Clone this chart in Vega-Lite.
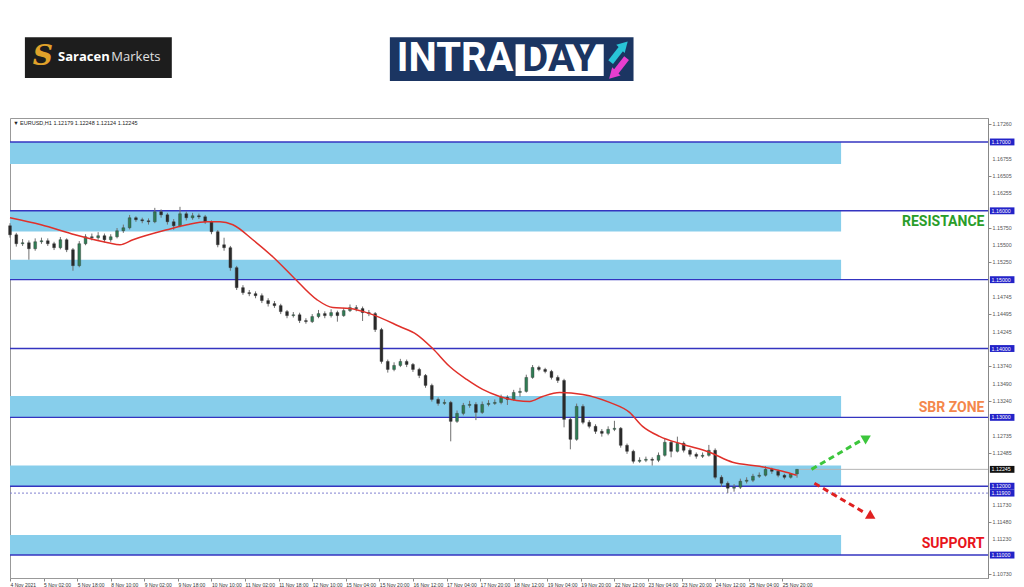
{
  "$schema": "https://vega.github.io/schema/vega-lite/v6.json",
  "width": 978,
  "height": 460,
  "autosize": {"type": "none"},
  "padding": {"left": 10, "top": 118, "right": 36, "bottom": 9},
  "background": "white",
  "config": {"view": {"stroke": "#999999", "strokeWidth": 1}, "axis": {"labelOverlap": false, "labelBound": false}},
  "datasets": {
    "candles": [
{"t":0,"o":1.15783,"h":1.1582,"l":1.1561,"c":1.15652},
{"t":3,"o":1.15652,"h":1.1568,"l":1.1548,"c":1.15522},
{"t":6,"o":1.15522,"h":1.1559,"l":1.1549,"c":1.15536},
{"t":9,"o":1.15536,"h":1.1557,"l":1.1529,"c":1.15449},
{"t":12,"o":1.15449,"h":1.156,"l":1.1542,"c":1.15551},
{"t":15,"o":1.15551,"h":1.1561,"l":1.1552,"c":1.15565},
{"t":18,"o":1.15565,"h":1.156,"l":1.1549,"c":1.15522},
{"t":21,"o":1.15522,"h":1.1555,"l":1.1543,"c":1.15464},
{"t":24,"o":1.15464,"h":1.1562,"l":1.1544,"c":1.1558},
{"t":27,"o":1.1558,"h":1.156,"l":1.154,"c":1.15435},
{"t":30,"o":1.15435,"h":1.1546,"l":1.1513,"c":1.15203},
{"t":33,"o":1.15203,"h":1.1556,"l":1.1518,"c":1.15522},
{"t":36,"o":1.15522,"h":1.1566,"l":1.155,"c":1.15623},
{"t":39,"o":1.15623,"h":1.1567,"l":1.1557,"c":1.15609},
{"t":42,"o":1.15609,"h":1.1569,"l":1.1558,"c":1.15638},
{"t":45,"o":1.15638,"h":1.1567,"l":1.1554,"c":1.1558},
{"t":48,"o":1.1558,"h":1.1566,"l":1.1555,"c":1.15623},
{"t":51,"o":1.15623,"h":1.1575,"l":1.156,"c":1.1571},
{"t":54,"o":1.1571,"h":1.158,"l":1.1568,"c":1.15754},
{"t":57,"o":1.15754,"h":1.1594,"l":1.1573,"c":1.15899},
{"t":60,"o":1.15899,"h":1.1592,"l":1.1584,"c":1.1587},
{"t":63,"o":1.1587,"h":1.159,"l":1.1582,"c":1.15855},
{"t":66,"o":1.15855,"h":1.1589,"l":1.158,"c":1.15841},
{"t":69,"o":1.15841,"h":1.16043,"l":1.1582,"c":1.15986},
{"t":72,"o":1.15986,"h":1.1602,"l":1.159,"c":1.15942},
{"t":75,"o":1.15942,"h":1.1597,"l":1.158,"c":1.15841},
{"t":78,"o":1.15841,"h":1.1588,"l":1.15725,"c":1.15783},
{"t":81,"o":1.15783,"h":1.16058,"l":1.1576,"c":1.15957},
{"t":84,"o":1.15957,"h":1.1599,"l":1.1586,"c":1.15899},
{"t":87,"o":1.15899,"h":1.1597,"l":1.1587,"c":1.15928},
{"t":90,"o":1.15928,"h":1.1596,"l":1.1588,"c":1.15913},
{"t":93,"o":1.15913,"h":1.1594,"l":1.1581,"c":1.15841},
{"t":96,"o":1.15841,"h":1.1586,"l":1.1566,"c":1.15696},
{"t":99,"o":1.15696,"h":1.1572,"l":1.1547,"c":1.15507},
{"t":102,"o":1.15507,"h":1.15609,"l":1.1542,"c":1.15464},
{"t":105,"o":1.15464,"h":1.1549,"l":1.1513,"c":1.15174},
{"t":108,"o":1.15174,"h":1.152,"l":1.1485,"c":1.14884},
{"t":111,"o":1.14884,"h":1.1492,"l":1.1478,"c":1.14812},
{"t":114,"o":1.14812,"h":1.1485,"l":1.1476,"c":1.14797},
{"t":117,"o":1.14797,"h":1.1483,"l":1.1473,"c":1.14768},
{"t":120,"o":1.14768,"h":1.148,"l":1.1466,"c":1.14696},
{"t":123,"o":1.14696,"h":1.1473,"l":1.1461,"c":1.14652},
{"t":126,"o":1.14652,"h":1.1469,"l":1.1459,"c":1.14623},
{"t":129,"o":1.14623,"h":1.1465,"l":1.145,"c":1.14536},
{"t":132,"o":1.14536,"h":1.1456,"l":1.1444,"c":1.14478},
{"t":135,"o":1.14478,"h":1.1453,"l":1.1445,"c":1.1449},
{"t":138,"o":1.1449,"h":1.1452,"l":1.1437,"c":1.14406},
{"t":141,"o":1.14406,"h":1.1444,"l":1.1436,"c":1.14391},
{"t":144,"o":1.14391,"h":1.145,"l":1.1437,"c":1.14464},
{"t":147,"o":1.14464,"h":1.1456,"l":1.1444,"c":1.14507},
{"t":150,"o":1.14507,"h":1.1454,"l":1.1444,"c":1.14478},
{"t":153,"o":1.14478,"h":1.1457,"l":1.1445,"c":1.14522},
{"t":156,"o":1.14522,"h":1.1455,"l":1.1439,"c":1.14478},
{"t":159,"o":1.14478,"h":1.1459,"l":1.1446,"c":1.14551},
{"t":162,"o":1.14551,"h":1.1464,"l":1.1453,"c":1.14594},
{"t":165,"o":1.14594,"h":1.1463,"l":1.1454,"c":1.1458},
{"t":168,"o":1.1458,"h":1.1461,"l":1.144,"c":1.14522},
{"t":171,"o":1.14522,"h":1.1456,"l":1.1447,"c":1.14507},
{"t":174,"o":1.14507,"h":1.1453,"l":1.1424,"c":1.14275},
{"t":177,"o":1.14275,"h":1.143,"l":1.1378,"c":1.13812},
{"t":180,"o":1.13812,"h":1.1384,"l":1.1365,"c":1.13696},
{"t":183,"o":1.13696,"h":1.138,"l":1.1367,"c":1.13754},
{"t":186,"o":1.13754,"h":1.1385,"l":1.1373,"c":1.13812},
{"t":189,"o":1.13812,"h":1.1384,"l":1.1373,"c":1.13768},
{"t":192,"o":1.13768,"h":1.1379,"l":1.1366,"c":1.13696},
{"t":195,"o":1.13696,"h":1.1372,"l":1.1357,"c":1.13609},
{"t":198,"o":1.13609,"h":1.1363,"l":1.1343,"c":1.13464},
{"t":201,"o":1.13464,"h":1.1349,"l":1.1323,"c":1.13261},
{"t":204,"o":1.13261,"h":1.1329,"l":1.1317,"c":1.13203},
{"t":207,"o":1.13203,"h":1.1326,"l":1.1318,"c":1.13217},
{"t":210,"o":1.13217,"h":1.1324,"l":1.12652,"c":1.12942},
{"t":213,"o":1.12942,"h":1.131,"l":1.1292,"c":1.13058},
{"t":216,"o":1.13058,"h":1.1321,"l":1.1303,"c":1.13174},
{"t":219,"o":1.13174,"h":1.1324,"l":1.1314,"c":1.13188},
{"t":222,"o":1.13188,"h":1.1322,"l":1.1296,"c":1.13072},
{"t":225,"o":1.13072,"h":1.1323,"l":1.1305,"c":1.13188},
{"t":228,"o":1.13188,"h":1.1325,"l":1.1316,"c":1.13203},
{"t":231,"o":1.13203,"h":1.1326,"l":1.1318,"c":1.13217},
{"t":234,"o":1.13217,"h":1.1333,"l":1.1319,"c":1.1329},
{"t":237,"o":1.1329,"h":1.1332,"l":1.1318,"c":1.13261},
{"t":240,"o":1.13261,"h":1.134,"l":1.1324,"c":1.13362},
{"t":243,"o":1.13362,"h":1.1343,"l":1.133,"c":1.13377},
{"t":246,"o":1.13377,"h":1.1362,"l":1.1336,"c":1.1358},
{"t":249,"o":1.1358,"h":1.1376,"l":1.1356,"c":1.13725},
{"t":252,"o":1.13725,"h":1.1375,"l":1.1367,"c":1.13696},
{"t":255,"o":1.13696,"h":1.1372,"l":1.1364,"c":1.13667},
{"t":258,"o":1.13667,"h":1.1369,"l":1.1355,"c":1.1358},
{"t":261,"o":1.1358,"h":1.1361,"l":1.135,"c":1.13536},
{"t":264,"o":1.13536,"h":1.1356,"l":1.12855,"c":1.12971},
{"t":267,"o":1.12971,"h":1.13,"l":1.12536,"c":1.12681},
{"t":270,"o":1.12681,"h":1.132,"l":1.1266,"c":1.13159},
{"t":273,"o":1.13159,"h":1.1319,"l":1.129,"c":1.12928},
{"t":276,"o":1.12928,"h":1.1296,"l":1.1284,"c":1.1287},
{"t":279,"o":1.1287,"h":1.129,"l":1.1276,"c":1.12797},
{"t":282,"o":1.12797,"h":1.1283,"l":1.1272,"c":1.12768},
{"t":285,"o":1.12768,"h":1.1287,"l":1.1274,"c":1.12826},
{"t":288,"o":1.12826,"h":1.1295,"l":1.128,"c":1.12841},
{"t":291,"o":1.12841,"h":1.1286,"l":1.1256,"c":1.12594},
{"t":294,"o":1.12594,"h":1.1262,"l":1.1247,"c":1.12507},
{"t":297,"o":1.12507,"h":1.1253,"l":1.1233,"c":1.12362},
{"t":300,"o":1.12362,"h":1.1242,"l":1.1234,"c":1.12377},
{"t":303,"o":1.12377,"h":1.1243,"l":1.1235,"c":1.12391},
{"t":306,"o":1.12391,"h":1.1242,"l":1.123,"c":1.12377},
{"t":309,"o":1.12377,"h":1.1249,"l":1.1235,"c":1.12449},
{"t":312,"o":1.12449,"h":1.127,"l":1.1243,"c":1.12638},
{"t":315,"o":1.12638,"h":1.1266,"l":1.1242,"c":1.12507},
{"t":318,"o":1.12507,"h":1.1272,"l":1.1249,"c":1.12623},
{"t":321,"o":1.12623,"h":1.1265,"l":1.1249,"c":1.12522},
{"t":324,"o":1.12522,"h":1.1255,"l":1.1243,"c":1.12464},
{"t":327,"o":1.12464,"h":1.1249,"l":1.124,"c":1.12435},
{"t":330,"o":1.12435,"h":1.1249,"l":1.1241,"c":1.12449},
{"t":333,"o":1.12449,"h":1.126,"l":1.1243,"c":1.12522},
{"t":336,"o":1.12522,"h":1.1255,"l":1.121,"c":1.1213},
{"t":339,"o":1.1213,"h":1.1216,"l":1.1199,"c":1.12043},
{"t":342,"o":1.12043,"h":1.1207,"l":1.11899,"c":1.11971},
{"t":345,"o":1.11971,"h":1.1203,"l":1.1192,"c":1.11986},
{"t":348,"o":1.11986,"h":1.1211,"l":1.1196,"c":1.12072},
{"t":351,"o":1.12072,"h":1.1213,"l":1.1204,"c":1.12087},
{"t":354,"o":1.12087,"h":1.1218,"l":1.1206,"c":1.12145},
{"t":357,"o":1.12145,"h":1.122,"l":1.1212,"c":1.12159},
{"t":360,"o":1.12159,"h":1.1229,"l":1.1214,"c":1.12245},
{"t":363,"o":1.12245,"h":1.1227,"l":1.1218,"c":1.12217},
{"t":366,"o":1.12217,"h":1.1224,"l":1.1213,"c":1.12159},
{"t":369,"o":1.12159,"h":1.1218,"l":1.121,"c":1.1213},
{"t":372,"o":1.1213,"h":1.1219,"l":1.1211,"c":1.12179},
{"t":375,"o":1.12179,"h":1.12248,"l":1.12124,"c":1.12245}
    ],
    "ma": [{"t":0,"p":1.15899},{"t":14.8,"p":1.15797},{"t":31,"p":1.15652},{"t":46.7,"p":1.15536},{"t":52.4,"p":1.15507},{"t":58.6,"p":1.1558},{"t":74.8,"p":1.15725},{"t":84.3,"p":1.15797},{"t":93.8,"p":1.15841},{"t":100,"p":1.15841},{"t":106.2,"p":1.15797},{"t":115.7,"p":1.1558},{"t":125.2,"p":1.15333},{"t":134.8,"p":1.15043},{"t":146.2,"p":1.1471},{"t":153.8,"p":1.14594},{"t":161.9,"p":1.1458},{"t":171.4,"p":1.14507},{"t":185.7,"p":1.14319},{"t":193.8,"p":1.14203},{"t":201.4,"p":1.14},{"t":209.5,"p":1.13739},{"t":217.6,"p":1.13551},{"t":225.2,"p":1.13406},{"t":233.3,"p":1.13304},{"t":241.4,"p":1.13246},{"t":247.6,"p":1.13232},{"t":253.8,"p":1.13304},{"t":261.9,"p":1.13362},{"t":272.9,"p":1.13333},{"t":285.7,"p":1.13217},{"t":295.2,"p":1.13072},{"t":301.4,"p":1.1287},{"t":309.5,"p":1.12725},{"t":320.5,"p":1.12609},{"t":333.3,"p":1.12493},{"t":344.3,"p":1.12348},{"t":357.1,"p":1.1229},{"t":368.1,"p":1.12217},{"t":374.8,"p":1.12159}],
    "zones": [{"a":0,"b":396,"lo":1.1668,"hi":1.17},{"a":0,"b":396,"lo":1.157,"hi":1.16},{"a":0,"b":396,"lo":1.15,"hi":1.1529},{"a":0,"b":396,"lo":1.13,"hi":1.1331},{"a":0,"b":396,"lo":1.12,"hi":1.123},{"a":0,"b":396,"lo":1.11,"hi":1.1129}],
    "levels": [{"p":1.17},{"p":1.16},{"p":1.15},{"p":1.14},{"p":1.13},{"p":1.12},{"p":1.11}],
    "marks": [{"p":1.17},{"p":1.16},{"p":1.15},{"p":1.14},{"p":1.13},{"p":1.12},{"p":1.119},{"p":1.11}],
    "ticks": [{"p":1.1726},{"p":1.16755},{"p":1.16505},{"p":1.16255},{"p":1.1575},{"p":1.155},{"p":1.1525},{"p":1.14745},{"p":1.14495},{"p":1.14245},{"p":1.1374},{"p":1.1349},{"p":1.1324},{"p":1.12735},{"p":1.12485},{"p":1.1173},{"p":1.1148},{"p":1.1123},{"p":1.1073}]
  },
  "layer": [
    {
      "data": {"name": "zones"},
      "mark": {"type": "rect", "color": "#87ceeb"},
      "encoding": {
        "x": {"field": "a", "type": "quantitative", "scale": {"domain": [0, 466], "nice": false, "zero": false, "padding": 0},
          "axis": {"orient": "bottom", "values": [0,16,32,48,64,80,96,112,128,144,160,176,192,208,224,240,256,272,288,304,320,336,352,368],
            "labelExpr": "['4 Nov 2021','5 Nov 02:00','5 Nov 18:00','8 Nov 10:00','9 Nov 02:00','9 Nov 18:00','10 Nov 10:00','11 Nov 02:00','11 Nov 18:00','12 Nov 10:00','15 Nov 04:00','15 Nov 20:00','16 Nov 12:00','17 Nov 04:00','17 Nov 20:00','18 Nov 12:00','19 Nov 04:00','19 Nov 20:00','22 Nov 12:00','23 Nov 04:00','23 Nov 20:00','24 Nov 12:00','25 Nov 04:00','25 Nov 20:00'][round(datum.value/16)]",
            "labelAlign": "left", "labelFontSize": 5, "labelFont": "Liberation Sans", "labelColor": "#333", "tickSize": 3, "tickColor": "#888", "domainColor": "#999", "labelPadding": 1, "grid": false, "labelFlush": false, "labelOverlap": false, "title": null}},
        "x2": {"field": "b"},
        "y": {"field": "lo", "type": "quantitative", "scale": {"domain": [1.10667, 1.17348], "nice": false, "zero": false, "padding": 0},
          "axis": {"orient": "right", "values": [1.1726,1.16755,1.16505,1.16255,1.1575,1.155,1.1525,1.14745,1.14495,1.14245,1.1374,1.1349,1.1324,1.12735,1.12485,1.1173,1.1148,1.1123,1.1073],
            "labels": false, "tickSize": 3, "tickColor": "#888", "domainColor": "#888", "grid": false, "title": null}},
        "y2": {"field": "hi"}
      }
    },
    {
      "data": {"name": "levels"},
      "mark": {"type": "rule", "color": "#3434c0", "strokeWidth": 1.4},
      "encoding": {"y": {"field": "p", "type": "quantitative"}}
    },
    {
      "data": {"values": [{"p": 1.119}]},
      "mark": {"type": "rule", "color": "#8080d0", "strokeWidth": 1, "strokeDash": [2, 2]},
      "encoding": {"y": {"field": "p", "type": "quantitative"}}
    },
    {
      "data": {"values": [{"t": 376, "t2": 466, "p": 1.12245}]},
      "mark": {"type": "rule", "color": "#b4b4b4", "strokeWidth": 1},
      "encoding": {"x": {"field": "t", "type": "quantitative"}, "x2": {"field": "t2"}, "y": {"field": "p", "type": "quantitative"}}
    },
    {
      "data": {"name": "candles"},
      "mark": {"type": "rule", "color": "#707070", "strokeWidth": 1},
      "encoding": {"x": {"field": "t", "type": "quantitative"}, "y": {"field": "l", "type": "quantitative"}, "y2": {"field": "h"}}
    },
    {
      "data": {"name": "candles"},
      "mark": {"type": "bar", "size": 2.8, "stroke": "#333", "strokeWidth": 0.4},
      "encoding": {
        "x": {"field": "t", "type": "quantitative"},
        "y": {"field": "o", "type": "quantitative"},
        "y2": {"field": "c"},
        "color": {"condition": {"test": "datum.c >= datum.o", "value": "#2f7d55"}, "value": "#2a2a2a"}
      }
    },
    {
      "data": {"name": "ma"},
      "mark": {"type": "line", "color": "#e0302a", "strokeWidth": 1.5, "interpolate": "monotone"},
      "encoding": {"x": {"field": "t", "type": "quantitative"}, "y": {"field": "p", "type": "quantitative"}}
    },
    {
      "data": {"values": [{"t": 381.9, "p": 1.12245, "t2": 405.5, "p2": 1.12665}]},
      "mark": {"type": "rule", "color": "#3cc63c", "strokeWidth": 3, "strokeDash": [6, 4]},
      "encoding": {"x": {"field": "t", "type": "quantitative"}, "y": {"field": "p", "type": "quantitative"}, "x2": {"field": "t2"}, "y2": {"field": "p2"}}
    },
    {
      "data": {"values": [{"t": 408.3, "p": 1.12705}]},
      "mark": {"type": "point", "shape": "triangle-up", "filled": true, "size": 110, "angle": 60, "color": "#3cc63c", "opacity": 1},
      "encoding": {"x": {"field": "t", "type": "quantitative"}, "y": {"field": "p", "type": "quantitative"}}
    },
    {
      "data": {"values": [{"t": 383.3, "p": 1.12043, "t2": 407.5, "p2": 1.1161}]},
      "mark": {"type": "rule", "color": "#e02020", "strokeWidth": 3, "strokeDash": [6, 4]},
      "encoding": {"x": {"field": "t", "type": "quantitative"}, "y": {"field": "p", "type": "quantitative"}, "x2": {"field": "t2"}, "y2": {"field": "p2"}}
    },
    {
      "data": {"values": [{"t": 410.5, "p": 1.1156}]},
      "mark": {"type": "point", "shape": "triangle-up", "filled": true, "size": 110, "angle": 120, "color": "#e02020", "opacity": 1},
      "encoding": {"x": {"field": "t", "type": "quantitative"}, "y": {"field": "p", "type": "quantitative"}}
    },
    {
      "data": {"values": [{"t": 464.3, "p": 1.15841, "txt": "RESISTANCE"}]},
      "mark": {"type": "text", "align": "right", "baseline": "middle", "font": "Roboto", "fontWeight": "bold", "fontSize": 14, "color": "#2a9d2a"},
      "encoding": {"x": {"field": "t", "type": "quantitative"}, "y": {"field": "p", "type": "quantitative"}, "text": {"field": "txt"}}
    },
    {
      "data": {"values": [{"t": 464.3, "p": 1.1313, "txt": "SBR ZONE"}]},
      "mark": {"type": "text", "align": "right", "baseline": "middle", "font": "Roboto", "fontWeight": "bold", "fontSize": 14, "color": "#f4874b"},
      "encoding": {"x": {"field": "t", "type": "quantitative"}, "y": {"field": "p", "type": "quantitative"}, "text": {"field": "txt"}}
    },
    {
      "data": {"values": [{"t": 464.3, "p": 1.11159, "txt": "SUPPORT"}]},
      "mark": {"type": "text", "align": "right", "baseline": "middle", "font": "Roboto", "fontWeight": "bold", "fontSize": 14, "color": "#e8141b"},
      "encoding": {"x": {"field": "t", "type": "quantitative"}, "y": {"field": "p", "type": "quantitative"}, "text": {"field": "txt"}}
    },
    {
      "data": {"values": [{"t": 1.5, "p": 1.1728, "txt": "▼ EURUSD,H1  1.12179 1.12248 1.12124 1.12245"}]},
      "mark": {"type": "text", "align": "left", "baseline": "middle", "font": "Liberation Sans", "fontSize": 5.5, "color": "#222"},
      "encoding": {"x": {"field": "t", "type": "quantitative"}, "y": {"field": "p", "type": "quantitative"}, "text": {"field": "txt"}}
    },
    {
      "data": {"name": "ticks"},
      "mark": {"type": "text", "align": "left", "baseline": "middle", "font": "Liberation Sans", "fontSize": 5.3, "color": "#555"},
      "encoding": {
        "x": {"datum": 468.2, "type": "quantitative"},
        "y": {"field": "p", "type": "quantitative"},
        "text": {"field": "p", "type": "quantitative", "format": ".5f"}
      }
    },
    {
      "data": {"name": "marks"},
      "transform": [{"calculate": "datum.p - 0.0005", "as": "lo"}, {"calculate": "datum.p + 0.0005", "as": "hi"}],
      "mark": {"type": "rect", "color": "#2323c8"},
      "encoding": {
        "x": {"datum": 466.9, "type": "quantitative"},
        "x2": {"datum": 478.6},
        "y": {"field": "lo", "type": "quantitative"},
        "y2": {"field": "hi"}
      }
    },
    {
      "data": {"values": [{"p": 1.12245}]},
      "transform": [{"calculate": "datum.p - 0.0005", "as": "lo"}, {"calculate": "datum.p + 0.0005", "as": "hi"}],
      "mark": {"type": "rect", "color": "#111111"},
      "encoding": {
        "x": {"datum": 466.9, "type": "quantitative"},
        "x2": {"datum": 478.6},
        "y": {"field": "lo", "type": "quantitative"},
        "y2": {"field": "hi"}
      }
    },
    {
      "data": {"values": [{"p":1.17},{"p":1.16},{"p":1.15},{"p":1.14},{"p":1.13},{"p":1.12},{"p":1.119},{"p":1.11},{"p":1.12245}]},
      "mark": {"type": "text", "align": "left", "baseline": "middle", "font": "Liberation Sans", "fontSize": 5.3, "color": "white"},
      "encoding": {
        "x": {"datum": 467.7, "type": "quantitative"},
        "y": {"field": "p", "type": "quantitative"},
        "text": {"field": "p", "type": "quantitative", "format": ".5f"}
      }
    },
    {
      "data": {"values": [{"a": 7.1, "b": 77.1, "lo": 1.17928, "hi": 1.18522}]},
      "mark": {"type": "rect", "color": "#1d1d1d"},
      "encoding": {"x": {"field": "a", "type": "quantitative"}, "x2": {"field": "b"}, "y": {"field": "lo", "type": "quantitative"}, "y2": {"field": "hi"}}
    },
    {
      "data": {"values": [{"a": 181, "b": 297.1, "lo": 1.17884, "hi": 1.18522}]},
      "mark": {"type": "rect", "color": "#1b3562"},
      "encoding": {"x": {"field": "a", "type": "quantitative"}, "x2": {"field": "b"}, "y": {"field": "lo", "type": "quantitative"}, "y2": {"field": "hi"}}
    },
    {
      "data": {"values": [{"a": 240.9, "b": 282.9, "lo": 1.17957, "hi": 1.1842}]},
      "mark": {"type": "rect", "color": "#ffffff"},
      "encoding": {"x": {"field": "a", "type": "quantitative"}, "x2": {"field": "b"}, "y": {"field": "lo", "type": "quantitative"}, "y2": {"field": "hi"}}
    },
    {
      "data": {"values": [{"t": 15.7, "p": 1.18232, "txt": "S"}]},
      "mark": {"type": "text", "align": "center", "baseline": "middle", "font": "DejaVu Serif", "fontWeight": "bold", "fontStyle": "italic", "fontSize": 28, "color": "#e0a22a"},
      "encoding": {"x": {"field": "t", "type": "quantitative"}, "y": {"field": "p", "type": "quantitative"}, "text": {"field": "txt"}}
    },
    {
      "data": {"values": [{"t": 22.9, "p": 1.18232, "txt": "Saracen"}]},
      "mark": {"type": "text", "align": "left", "baseline": "middle", "font": "Open Sans", "fontWeight": "bold", "fontSize": 13, "color": "#ffffff"},
      "encoding": {"x": {"field": "t", "type": "quantitative"}, "y": {"field": "p", "type": "quantitative"}, "text": {"field": "txt"}}
    },
    {
      "data": {"values": [{"t": 48.3, "p": 1.18232, "txt": "Markets"}]},
      "mark": {"type": "text", "align": "left", "baseline": "middle", "font": "Open Sans", "fontWeight": "normal", "fontSize": 13, "color": "#e0e0e0"},
      "encoding": {"x": {"field": "t", "type": "quantitative"}, "y": {"field": "p", "type": "quantitative"}, "text": {"field": "txt"}}
    },
    {
      "data": {"values": [{"t": 184.3, "p": 1.18203, "txt": "INTRA"}]},
      "mark": {"type": "text", "align": "left", "baseline": "middle", "font": "Roboto", "fontWeight": "bold", "fontSize": 40, "color": "#ffffff"},
      "encoding": {"x": {"field": "t", "type": "quantitative"}, "y": {"field": "p", "type": "quantitative"}, "text": {"field": "txt"}}
    },
    {
      "data": {"values": [{"t": 261.9, "p": 1.18203, "txt": "DAY"}]},
      "mark": {"type": "text", "align": "center", "baseline": "middle", "font": "Roboto", "fontWeight": "bold", "fontSize": 40, "color": "#1b3562"},
      "encoding": {"x": {"field": "t", "type": "quantitative"}, "y": {"field": "p", "type": "quantitative"}, "text": {"field": "txt"}}
    },
    {
      "data": {"values": [{"t": 286.2, "p": 1.18159, "t2": 291.4, "p2": 1.18362}]},
      "mark": {"type": "rule", "color": "#29c5d8", "strokeWidth": 6},
      "encoding": {"x": {"field": "t", "type": "quantitative"}, "y": {"field": "p", "type": "quantitative"}, "x2": {"field": "t2"}, "y2": {"field": "p2"}}
    },
    {
      "data": {"values": [{"t": 292.6, "p": 1.18405}]},
      "mark": {"type": "point", "shape": "triangle-up", "filled": true, "size": 140, "angle": 45, "color": "#29c5d8", "opacity": 1},
      "encoding": {"x": {"field": "t", "type": "quantitative"}, "y": {"field": "p", "type": "quantitative"}}
    },
    {
      "data": {"values": [{"t": 293.8, "p": 1.18217, "t2": 288.6, "p2": 1.18014}]},
      "mark": {"type": "rule", "color": "#e83ecf", "strokeWidth": 6},
      "encoding": {"x": {"field": "t", "type": "quantitative"}, "y": {"field": "p", "type": "quantitative"}, "x2": {"field": "t2"}, "y2": {"field": "p2"}}
    },
    {
      "data": {"values": [{"t": 287.2, "p": 1.17972}]},
      "mark": {"type": "point", "shape": "triangle-up", "filled": true, "size": 140, "angle": 225, "color": "#e83ecf", "opacity": 1},
      "encoding": {"x": {"field": "t", "type": "quantitative"}, "y": {"field": "p", "type": "quantitative"}}
    }
  ]
}
